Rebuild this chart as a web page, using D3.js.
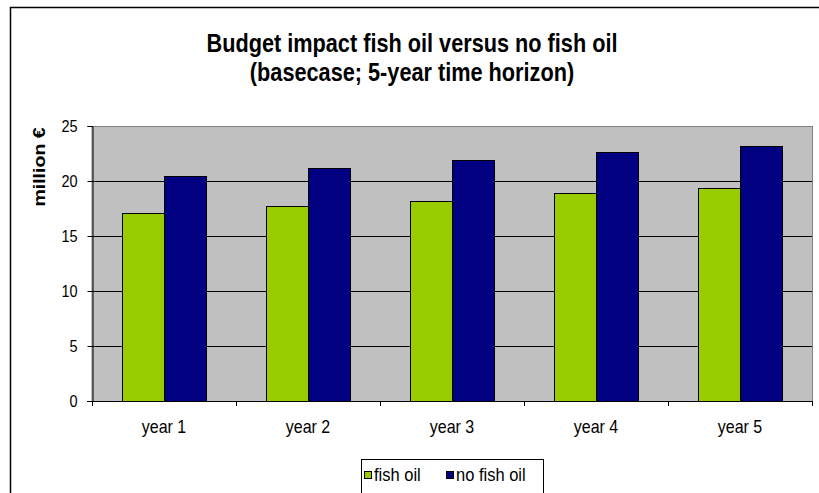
<!DOCTYPE html>
<html>
<head>
<meta charset="utf-8">
<script src="https://cdn.jsdelivr.net/npm/d3@7"></script>
<style>
  body { margin: 0; background: #fff; }
  text { font-family: Arial, "Liberation Sans", sans-serif; fill: #000; }
</style>
</head>
<body>
<div id="chart"></div>
<script>
// data
const categories = ["year 1", "year 2", "year 3", "year 4", "year 5"];
const seriesNames = ["fish oil", "no fish oil"];
const fishOil = [17.1, 17.7, 18.2, 18.9, 19.4];
const noFishOil = [20.5, 21.2, 21.9, 22.6, 23.2];
const yTicks = [0, 5, 10, 15, 20, 25];
const colors = ["#99cc00", "#000080"];

const w = 819, h = 493;
const plot = { left: 92, right: 812, top: 126, bottom: 401 };
const stretch = 1.15; // the original text is a bit taller than wide

const svg = d3.select("#chart").append("svg")
  .attr("width", w).attr("height", h);

// outer chart border
svg.append("rect")
  .attr("x", 10.5).attr("y", 7.5)
  .attr("width", w).attr("height", h)
  .attr("fill", "none").attr("stroke", "#000").attr("stroke-width", 1.5);

// helper for text placed with a vertical stretch
function label(g, x, yy, txt, size, bold) {
  return g.append("text")
    .attr("transform", `translate(${x},${yy}) scale(1,${stretch})`)
    .attr("font-size", size)
    .attr("font-weight", bold ? "bold" : "normal")
    .text(txt);
}

// title
label(svg, 412, 52, "Budget impact fish oil versus no fish oil", 21.7, true).attr("text-anchor", "middle");
label(svg, 412, 81, "(basecase; 5-year time horizon)", 21.7, true).attr("text-anchor", "middle");

const x0 = d3.scaleBand().domain(categories)
  .range([plot.left, plot.right]).paddingInner(0).paddingOuter(0);
const x1 = d3.scaleBand().domain(seriesNames)
  .range([0, x0.bandwidth()]).paddingInner(0).paddingOuter(0.714);
const y = d3.scaleLinear().domain([0, 25]).range([plot.bottom, plot.top]);

// plot area
svg.append("rect")
  .attr("x", plot.left).attr("y", plot.top + 0.5)
  .attr("width", plot.right - plot.left + 0.5).attr("height", plot.bottom - plot.top)
  .attr("fill", "#c0c0c0").attr("stroke", "#808080").attr("stroke-width", 1);

// gridlines
svg.append("g").selectAll("line")
  .data(yTicks.filter(d => d > 0 && d < 25))
  .join("line")
  .attr("x1", plot.left).attr("x2", plot.right)
  .attr("y1", d => Math.round(y(d)) + 0.5).attr("y2", d => Math.round(y(d)) + 0.5)
  .attr("stroke", "#000").attr("stroke-width", 1);

// bars
const rows = categories.map((c, i) => ({ cat: c, values: [fishOil[i], noFishOil[i]] }));
svg.append("g").selectAll("g")
  .data(rows)
  .join("g")
  .attr("transform", d => `translate(${x0(d.cat)},0)`)
  .selectAll("rect")
  .data(d => d.values.map((v, j) => ({ key: seriesNames[j], v, j })))
  .join("rect")
  .attr("x", d => Math.round(x1(d.key)) + 0.5)
  .attr("y", d => Math.round(y(d.v)) + 0.5)
  .attr("width", x1.bandwidth())
  .attr("height", d => Math.round(y(0)) - Math.round(y(d.v)))
  .attr("fill", d => colors[d.j])
  .attr("stroke", "#000").attr("stroke-width", 1);

// y axis
const yAxis = d3.axisLeft(y).tickValues(yTicks).tickSize(5).tickPadding(10);
const gy = svg.append("g")
  .attr("transform", `translate(${plot.left + 0.5},0)`)
  .call(yAxis);
gy.selectAll("text")
  .attr("font-size", 14.5)
  .attr("font-family", "Arial, 'Liberation Sans', sans-serif")
  .attr("transform", `scale(1,${stretch})`);
gy.select(".domain").attr("stroke", "#000");

// x axis (ticks at category boundaries)
const gx = svg.append("g")
  .attr("transform", `translate(0,${plot.bottom})`);
gx.append("line")
  .attr("x1", plot.left - 5).attr("x2", plot.right)
  .attr("y1", 0.5).attr("y2", 0.5).attr("stroke", "#000");
gx.selectAll("line.tick")
  .data(categories.map(c => x0(c)).concat([plot.right]))
  .join("line")
  .attr("class", "tick")
  .attr("x1", d => Math.round(d) + 0.5).attr("x2", d => Math.round(d) + 0.5)
  .attr("y1", 0).attr("y2", 5).attr("stroke", "#000");
categories.forEach(c => {
  label(gx, x0(c) + x0.bandwidth() / 2, 32, c, 16, false).attr("text-anchor", "middle");
});

// y label
svg.append("text")
  .attr("transform", `translate(45,167) rotate(-90) scale(${stretch},1)`)
  .attr("text-anchor", "middle")
  .attr("font-weight", "bold")
  .attr("font-size", 17)
  .text("million €");

// legend
const lg = svg.append("g");
lg.append("rect")
  .attr("x", 361.5).attr("y", 459.5).attr("width", 182).attr("height", 40)
  .attr("fill", "#fff").attr("stroke", "#000");
const legendX = [364, 446];
seriesNames.forEach((s, i) => {
  lg.append("rect")
    .attr("x", legendX[i] + 0.5).attr("y", 471.5).attr("width", 7).attr("height", 7)
    .attr("fill", colors[i]).attr("stroke", "#000");
  label(lg, legendX[i] + 10, 481, s, 16.5, false);
});
</script>
</body>
</html>
